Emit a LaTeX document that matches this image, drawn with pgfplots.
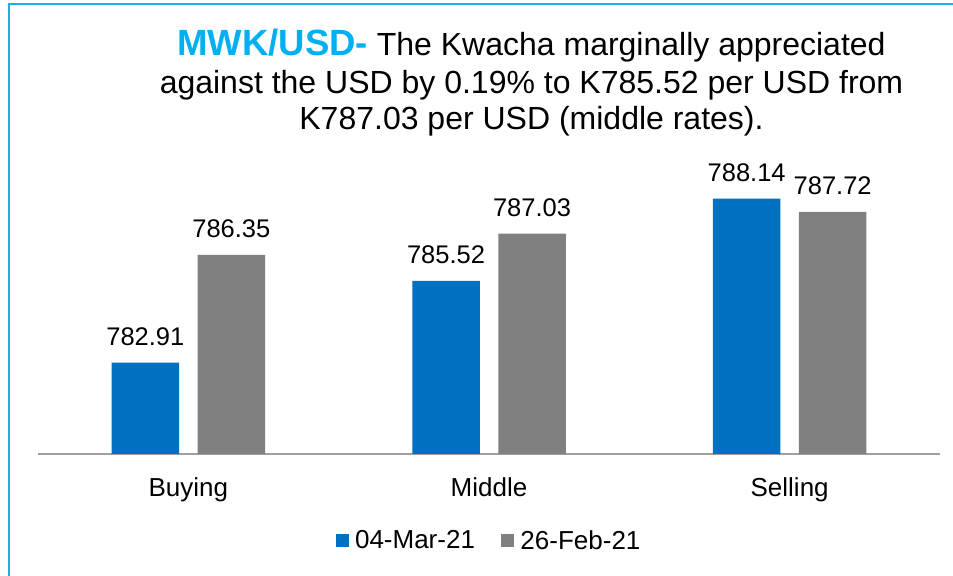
\documentclass[border=0pt]{standalone}
\usepackage{fontspec}
\setmainfont{Liberation Sans}
\usepackage{pgfplots}
\pgfplotsset{compat=1.18}
\definecolor{barblue}{HTML}{0070C0}
\definecolor{bargray}{HTML}{808080}
\definecolor{titlecyan}{HTML}{00B0F0}
\definecolor{framecyan}{HTML}{1CB0E8}
\definecolor{axisgray}{HTML}{A0A0A0}
\begin{document}
\begin{tikzpicture}
\useasboundingbox (0bp,0bp) rectangle (953bp,576bp);
\draw[framecyan, line width=1.6bp] (9bp,-5bp) -- (9bp,572bp) -- (960bp,572bp);
\node[anchor=base, font=\fontsize{32bp}{38bp}\selectfont] at (531.5bp,520.7bp)
  {{\fontsize{36.5bp}{40bp}\selectfont\bfseries\color{titlecyan}MWK/USD-} The Kwacha marginally appreciated};
\node[anchor=base, font=\fontsize{32bp}{38bp}\selectfont] at (531.5bp,482.7bp)
  {against the USD by 0.19\% to K785.52 per USD from};
\node[anchor=base, font=\fontsize{32bp}{38bp}\selectfont] at (531.5bp,446bp)
  {K787.03 per USD (middle rates).};
\begin{axis}[
  at={(38bp,122bp)}, anchor=south west,
  scale only axis, width=902bp, height=313.6bp,
  xmin=-0.5, xmax=2.5, ymin=780, ymax=790,
  ybar=18.5bp, bar width=67.5bp,
  axis y line=none, axis x line*=bottom,
  x axis line style={axisgray, line width=2bp, -},
  major tick length=0pt,
  xtick={0,1,2}, xticklabels={Buying,Middle,Selling},
  xticklabel style={font=\fontsize{26bp}{30bp}\selectfont, anchor=base, yshift=-42bp},
  nodes near coords={\pgfmathprintnumber[fixed,fixed zerofill,precision=2]{\pgfplotspointmeta}},
  every node near coord/.append style={font=\fontsize{25.5bp}{30bp}\selectfont, anchor=south, inner sep=0pt, yshift=17bp, text=black},
  /pgf/number format/assume math mode=true,
  legend style={draw=none, at={(0.5,-0.276)}, anchor=center, legend columns=2,
    font=\fontsize{26bp}{30bp}\selectfont, nodes={inner sep=2bp},
    /tikz/every odd column/.append style={column sep=4bp},
    /tikz/every even column/.append style={column sep=24bp}},
  legend image code/.code={\fill[#1] (0bp,-6.5bp) rectangle (13.5bp,7bp);},
]
\addplot[fill=barblue, draw=none] coordinates {(0,782.91) (1,785.52) (2,788.14)};
\addplot[fill=bargray, draw=none] coordinates {(0,786.35) (1,787.03) (2,787.72)};
\legend{04-Mar-21, 26-Feb-21}
\end{axis}
\end{tikzpicture}
\end{document}
